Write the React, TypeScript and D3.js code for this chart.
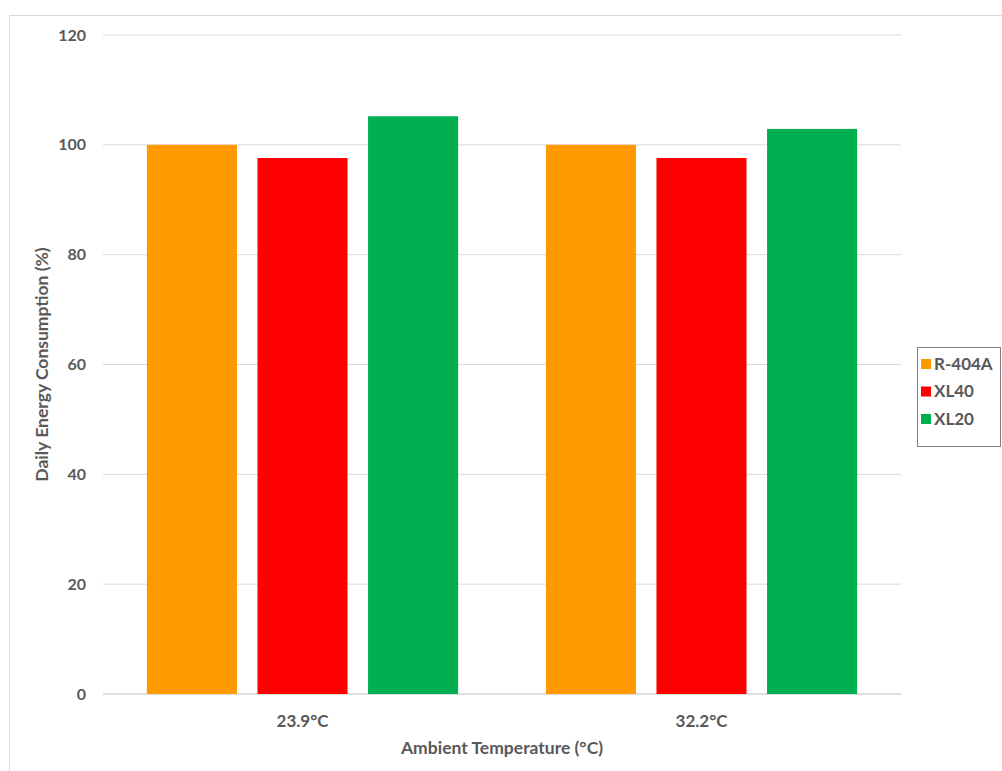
import React from "react";
import * as d3 from "d3";

const categories = ["23.9°C", "32.2°C"];
const seriesNames = ["R-404A", "XL40", "XL20"];
const seriesColors = ["#FF9900", "#FF0000", "#00B050"];
const r404a = [100, 100];
const xl40 = [97.6, 97.6];
const xl20 = [105.2, 102.9];
const yTicks = [0, 20, 40, 60, 80, 100, 120];

const W = 1002;
const H = 771;
const FONT = "Lato, 'Open Sans', sans-serif";
const TXT = "#595959";

export default function App() {
  const values = [r404a, xl40, xl20];
  const left = 103, right = 901, top = 35, bottom = 694;
  const y = d3.scaleLinear().domain([0, 120]).range([bottom, top]);
  const x0 = d3.scaleBand<string>().domain(categories).range([left, right]).padding(0);
  const bw = x0.bandwidth();
  const outer = bw * 0.11;
  const x1 = d3
    .scaleBand<string>()
    .domain(seriesNames)
    .range([outer, bw - outer])
    .paddingInner(0.1855)
    .paddingOuter(0);

  return (
    <svg width={W} height={H} style={{ position: "absolute", left: 0, top: 0, background: "#fff" }}>
      <rect x={9.5} y={15.5} width={W} height={H} fill="#fff" stroke="#d9d9d9" />
      {yTicks.map((t) => (
        <g key={t}>
          <line x1={left} x2={right} y1={y(t)} y2={y(t)} stroke={t === 0 ? "#bfbfbf" : "#d9d9d9"} strokeWidth={1} />
          <text x={86} y={y(t)} dy="0.35em" textAnchor="end" fontFamily={FONT} fontSize={16} fontWeight={700} fill={TXT}>
            {t}
          </text>
        </g>
      ))}
      {categories.map((c, ci) => (
        <g key={c} transform={`translate(${x0(c)},0)`}>
          {seriesNames.map((s, si) => (
            <rect
              key={s}
              x={x1(s)}
              y={y(values[si][ci])}
              width={x1.bandwidth()}
              height={y(0) - y(values[si][ci])}
              fill={seriesColors[si]}
            />
          ))}
          <text x={bw / 2} y={721} dy="0.35em" textAnchor="middle" fontFamily={FONT} fontSize={17} fontWeight={700} fill={TXT}>
            {c}
          </text>
        </g>
      ))}
      <text x={(left + right) / 2} y={748} dy="0.35em" textAnchor="middle" fontFamily={FONT} fontSize={17.5} fontWeight={700} fill={TXT}>
        Ambient Temperature (°C)
      </text>
      <text
        transform={`translate(42,${(top + bottom) / 2}) rotate(-90)`}
        dy="0.35em"
        textAnchor="middle"
        fontFamily={FONT}
        fontSize={17.5}
        fontWeight={700}
        fill={TXT}
      >
        Daily Energy Consumption (%)
      </text>
      <rect x={917.5} y={347.5} width={83} height={99} fill="#fff" stroke="#7f7f7f" />
      {seriesNames.map((s, i) => (
        <g key={s} transform={`translate(921,${364 + i * 27.5})`}>
          <rect x={0} y={-5} width={10} height={10} fill={seriesColors[i]} />
          <text x={13} y={0} dy="0.35em" fontFamily={FONT} fontSize={17} fontWeight={700} fill={TXT}>
            {s}
          </text>
        </g>
      ))}
    </svg>
  );
}
